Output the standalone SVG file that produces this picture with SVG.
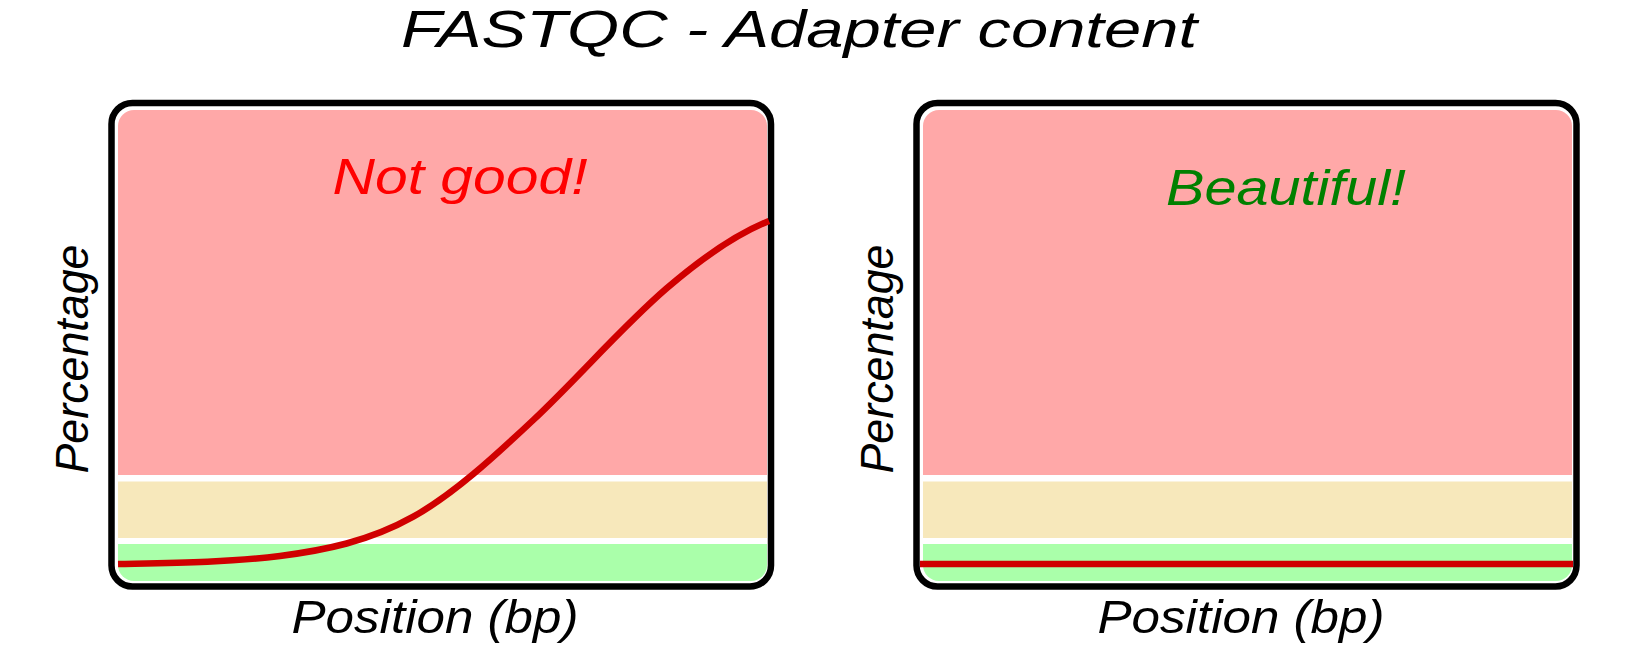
<svg xmlns="http://www.w3.org/2000/svg" width="1630" height="656" viewBox="0 0 1630 656">
  <style>
    .hand { font-family: "Liberation Sans", "DejaVu Sans", sans-serif; font-style: italic; }
    .frame { fill: none; stroke: #000; stroke-width: 6.5; }
    .pink { fill: #ffa8a8; }
    .beige { fill: #f7e8bb; }
    .green { fill: #aaffaa; }
    .curve { fill: none; stroke: #d00000; stroke-width: 6.5; stroke-linecap: butt; }
    .axis { font-size: 46px; fill: #000; }
  </style>
  <defs>
    <clipPath id="inner">
      <rect x="0" y="0" width="649" height="471" rx="16" ry="16"/>
    </clipPath>
    <g id="bands">
      <g clip-path="url(#inner)">
        <rect class="pink" x="0" y="0" width="649" height="365"/>
        <rect class="beige" x="0" y="371.5" width="649" height="56.5"/>
        <rect class="green" x="0" y="434" width="649" height="37"/>
      </g>
    </g>
  </defs>
  <rect width="1630" height="656" fill="#ffffff"/>
  <text id="title" class="hand" x="799" y="47" font-size="52" text-anchor="middle" textLength="796" lengthAdjust="spacingAndGlyphs">FASTQC - Adapter content</text>

  <g id="panel-left">
    <use href="#bands" x="118" y="110"/>
    <rect class="frame" x="111.5" y="103" width="659.5" height="483.5" rx="21" ry="21"/>
    <path class="curve" d="M118,564 C172,562.9 226,562.5 280,556 C324.4,550.2 368.9,541.6 413.3,516.7 C453.3,494.3 493.3,457.6 533.3,420 C577.8,378.2 622.2,326.6 666.7,288.3 C700.8,259 734.9,234.6 769,221"/>
    <text class="hand" x="460" y="194" font-size="50" fill="#ff0000" text-anchor="middle" textLength="255" lengthAdjust="spacingAndGlyphs">Not good!</text>
    <text class="hand axis" transform="translate(87.5,359) rotate(-90)" text-anchor="middle" textLength="229" lengthAdjust="spacingAndGlyphs">Percentage</text>
    <text class="hand axis" x="435" y="633" text-anchor="middle" textLength="287" lengthAdjust="spacingAndGlyphs">Position (bp)</text>
  </g>

  <g id="panel-right">
    <use href="#bands" x="923" y="110"/>
    <rect class="frame" x="916.5" y="103" width="660" height="483.5" rx="21" ry="21"/>
    <path class="curve" d="M920,564 L1573,564"/>
    <text class="hand" x="1286" y="205" font-size="50" fill="#008000" text-anchor="middle" textLength="240" lengthAdjust="spacingAndGlyphs">Beautiful!</text>
    <text class="hand axis" transform="translate(892.5,359) rotate(-90)" text-anchor="middle" textLength="229" lengthAdjust="spacingAndGlyphs">Percentage</text>
    <text class="hand axis" x="1241" y="633" text-anchor="middle" textLength="287" lengthAdjust="spacingAndGlyphs">Position (bp)</text>
  </g>
</svg>
